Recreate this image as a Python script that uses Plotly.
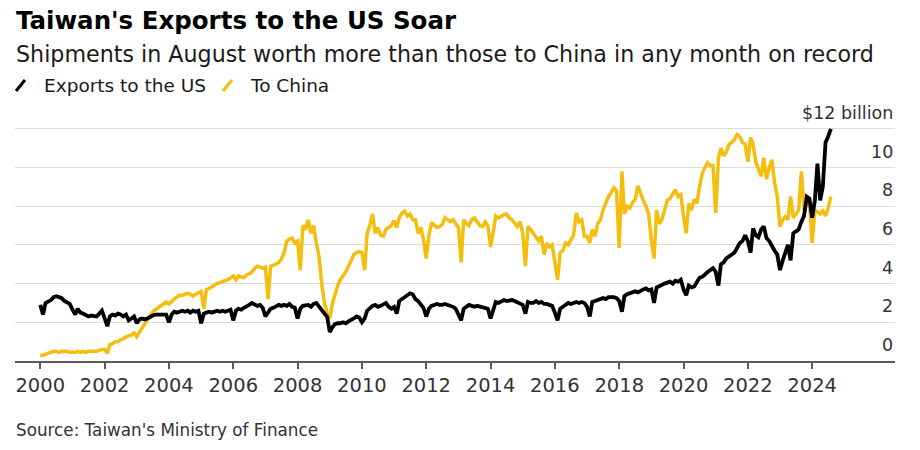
import pandas as pd
import plotly.graph_objects as go

# ---------------- data (monthly, $ billion) ----------------
start_month = "2000-01-01"

us_exports = [
    # 2000
    2.9, 2.4, 3.0, 3.05, 3.15, 3.3, 3.35, 3.3, 3.25, 3.1, 3.0, 2.95,
    # 2001
    2.65, 2.4, 2.7, 2.5, 2.45, 2.35, 2.3, 2.35, 2.3, 2.3, 2.45, 2.6,
    # 2002
    2.2, 1.8, 2.3, 2.4, 2.35, 2.45, 2.4, 2.3, 2.4, 2.1, 2.2, 2.3,
    # 2003
    1.95, 2.15, 2.2, 2.15, 2.2, 2.3, 2.35, 2.4, 2.4, 2.4, 2.4, 2.4,
    # 2004
    2.0, 2.4, 2.55, 2.5, 2.55, 2.6, 2.55, 2.6, 2.5, 2.6, 2.55, 2.6,
    # 2005
    1.95, 2.45, 2.5, 2.55, 2.5, 2.55, 2.6, 2.55, 2.6, 2.55, 2.6, 2.65,
    # 2006
    2.1, 2.6, 2.7, 2.65, 2.75, 2.8, 2.9, 3.0, 2.95, 2.85, 2.9, 2.75,
    # 2007
    2.3, 2.55, 2.7, 2.75, 2.8, 2.9, 2.85, 2.9, 2.85, 2.95, 2.8, 2.75,
    # 2008
    2.2, 2.7, 2.85, 2.9, 2.9, 2.8, 2.95, 3.0, 2.8, 2.6, 2.45, 2.3,
    # 2009
    1.5, 1.75, 1.9, 1.95, 1.95, 2.0, 1.95, 2.05, 2.1, 2.2, 2.3, 2.25,
    # 2010
    2.0, 2.2, 2.6, 2.75, 2.85, 2.9, 2.8, 2.85, 2.95, 3.0, 2.8, 2.7,
    # 2011
    2.8, 2.45, 3.1, 3.2, 3.35, 3.4, 3.5, 3.45, 3.2, 3.1, 2.9, 2.75,
    # 2012
    2.3, 2.7, 2.85, 2.9, 2.95, 2.9, 2.9, 2.95, 2.9, 2.85, 2.8, 2.7,
    # 2013
    2.4, 2.1, 2.7, 2.8, 2.9, 2.85, 2.8, 2.85, 2.8, 2.75, 2.7, 2.7,
    # 2014
    2.2, 2.6, 3.05, 3.0, 3.1, 3.15, 3.1, 3.15, 3.15, 3.1, 3.05, 3.0,
    # 2015
    2.9, 2.45, 3.05, 3.0, 3.0, 3.1, 3.0, 3.05, 2.95, 2.95, 2.9, 2.85,
    # 2016
    2.5, 2.1, 2.7, 2.8, 2.9, 3.0, 2.95, 3.0, 3.05, 3.0, 3.05, 3.0,
    # 2017
    2.8, 2.3, 3.05, 3.1, 3.15, 3.2, 3.25, 3.2, 3.3, 3.3, 3.3, 3.25,
    # 2018
    3.1, 2.55, 3.35, 3.45, 3.5, 3.55, 3.6, 3.55, 3.65, 3.7, 3.75, 3.65,
    # 2019
    3.7, 3.0, 3.8, 3.85, 3.9, 4.0, 4.05, 4.1, 4.0, 4.15, 4.1, 4.2,
    # 2020
    3.7, 3.4, 3.9, 3.8, 3.85, 4.1, 4.3, 4.35, 4.5, 4.6, 4.7, 4.8,
    # 2021
    4.6, 3.9, 5.0, 5.1, 5.3, 5.4, 5.5, 5.6, 5.85, 6.1, 6.2, 6.5,
    # 2022
    6.2, 5.6, 6.85, 6.5, 6.4, 6.8, 6.95, 6.35, 6.2, 5.9, 5.7, 5.5,
    # 2023
    4.7, 5.2, 5.55, 6.0, 5.2, 6.6, 6.7, 6.8, 7.2, 7.5, 8.5, 8.4,
    # 2024 (Jan-Aug)
    7.4, 8.3, 10.2, 8.3, 9.0, 11.3, 11.6, 12.0,
]

china_exports = [
    # 2000
    0.3, 0.3, 0.35, 0.4, 0.45, 0.5, 0.5, 0.45, 0.5, 0.5, 0.5, 0.45,
    # 2001
    0.45, 0.45, 0.5, 0.45, 0.5, 0.45, 0.5, 0.5, 0.5, 0.5, 0.55, 0.6,
    # 2002
    0.6, 0.4, 0.85, 0.9, 1.0, 1.0, 1.1, 1.15, 1.25, 1.3, 1.35, 1.45,
    # 2003
    1.25, 1.5, 1.7, 1.9, 2.1, 2.3, 2.55, 2.65, 2.75, 2.85, 2.95, 3.05,
    # 2004
    2.95, 3.1, 3.2, 3.3, 3.4, 3.4, 3.45, 3.5, 3.45, 3.35, 3.45, 3.55,
    # 2005
    3.6, 2.7, 3.7, 3.75, 3.85, 3.9, 4.0, 4.05, 4.1, 4.15, 4.2, 4.3,
    # 2006
    4.4, 4.2, 4.4, 4.35, 4.3, 4.45, 4.5, 4.6, 4.8, 4.9, 4.85, 4.8,
    # 2007
    4.85, 3.2, 4.9, 4.95, 5.0, 5.1, 5.25, 5.6, 6.2, 6.3, 6.35, 6.1,
    # 2008
    6.2, 4.7, 7.0, 6.8, 7.3, 6.6, 7.0, 6.1, 5.4, 4.0, 3.0, 2.5,
    # 2009
    2.2, 3.0, 3.5, 3.9, 4.2, 4.4, 4.6, 4.9, 5.2, 5.5, 5.6, 5.65,
    # 2010
    5.6, 4.7, 6.6, 7.0, 7.6, 6.6, 6.9, 6.5, 6.45, 6.8, 6.9, 7.0,
    # 2011
    7.25, 6.9, 7.4, 7.65, 7.75, 7.5, 7.6, 7.3, 7.3, 6.6, 6.9, 6.3,
    # 2012
    5.3, 6.5, 7.15, 7.0, 6.9, 6.95, 7.05, 7.4, 7.3, 7.2, 7.3, 7.1,
    # 2013
    6.9, 5.1, 7.3, 7.1, 7.0, 7.3, 7.4, 7.2, 7.0, 6.95, 7.2, 7.0,
    # 2014
    5.9, 6.7, 7.5, 7.4, 7.5, 7.55, 7.6, 7.4, 7.3, 7.1, 6.95, 7.2,
    # 2015
    6.6, 4.9, 6.95, 6.8, 6.6, 6.4, 6.2, 6.45, 5.5, 6.1, 5.9, 6.0,
    # 2016
    5.2, 4.2, 5.6, 5.7, 6.1, 6.0, 6.25, 6.5, 7.65, 7.2, 7.3, 6.45,
    # 2017
    6.45, 6.1, 6.8, 6.45, 7.1, 7.3, 7.8, 8.2, 8.5, 8.7, 8.95, 8.8,
    # 2018
    5.85, 9.8, 7.6, 8.0, 7.9, 8.2, 8.35, 9.05, 8.6, 8.3, 8.0, 7.6,
    # 2019
    6.2, 5.3, 7.8, 7.1, 7.3, 7.8, 8.3, 8.4, 8.6, 8.85, 8.5, 8.6,
    # 2020
    7.5, 6.6, 8.15, 7.8, 8.35, 8.15, 9.0, 9.7, 10.0, 10.25, 10.1, 10.1,
    # 2021
    7.65, 10.5, 11.0, 10.6, 10.8, 11.2, 11.3, 11.45, 11.7, 11.6, 11.3, 11.2,
    # 2022
    10.3, 11.55, 11.2, 10.3, 9.9, 9.55, 10.5, 9.4, 10.0, 10.4, 9.2, 8.5,
    # 2023
    6.95, 7.3, 7.45, 7.3, 8.5, 7.4, 7.6, 7.8, 9.8, 7.8, 8.1, 8.3,
    # 2024 (Jan-Aug)
    6.1, 7.8, 7.7, 7.6, 7.75, 7.5, 7.9, 8.5,
]

x_tick_years = [2000, 2002, 2004, 2006, 2008, 2010, 2012, 2014, 2016, 2018, 2020, 2022, 2024]

y_tick_values = [0, 2, 4, 6, 8, 10, 12]
y_tick_labels = ["0", "2", "4", "6", "8", "10", "$12 billion"]

series_names = ["Exports to the US", "To China"]

title_text = "Taiwan's Exports to the US Soar"
subtitle_text = "Shipments in August worth more than those to China in any month on record"
source_text = "Source: Taiwan's Ministry of Finance"

# ---------------- figure ----------------
months = pd.date_range(start_month, periods=len(us_exports), freq="MS")
x_tick_dates = [f"{y}-01-01" for y in x_tick_years]
x_tick_text = [str(y) for y in x_tick_years]

BLACK = "#000000"
YELLOW = "#F4BE0E"
FONT = "DejaVu Sans"

W, H = 920, 450
ML, MR, MT, MB = 15, 25, 124, 89
PW, PH = W - ML - MR, H - MT - MB


def px_x(p):
    return (p - ML) / PW


def px_y(p):
    return (H - MB - p) / PH


fig = go.Figure()
fig.add_trace(go.Scatter(x=months, y=china_exports, mode="lines", name=series_names[1],
                         line=dict(color=YELLOW, width=3.5), hoverinfo="skip"))
fig.add_trace(go.Scatter(x=months, y=us_exports, mode="lines", name=series_names[0],
                         line=dict(color=BLACK, width=3.8), hoverinfo="skip"))

fig.update_layout(
    width=W, height=H,
    margin=dict(l=ML, r=MR, t=MT, b=MB),
    paper_bgcolor="white", plot_bgcolor="white",
    showlegend=False,
    font=dict(family=FONT, color="#222"),
    xaxis=dict(
        type="date",
        range=["1999-03-20", "2026-07-30"],
        tickmode="array", tickvals=x_tick_dates, ticktext=x_tick_text,
        showgrid=False, zeroline=False,
        showline=True, linecolor="#5a5a5a", linewidth=1.5,
        ticks="outside", ticklen=6, tickwidth=1.5, tickcolor="#5a5a5a",
        tickfont=dict(family=FONT, size=19.5, color="#333"),
    ),
    yaxis=dict(
        range=[0, 12.25],
        tickmode="array", tickvals=y_tick_values,
        showticklabels=False,
        ticks="", showline=False, zeroline=False,
        showgrid=True, gridcolor="#dcdcdc", gridwidth=1,
    ),
)

# y-axis labels sitting above their gridlines at the right edge
for v, lab in zip(y_tick_values, y_tick_labels):
    fig.add_annotation(x=1.0, y=v, xref="paper", yref="y", xanchor="right", yanchor="bottom",
                       text=lab, showarrow=False, yshift=4,
                       font=dict(family=FONT, size=17.5, color="#333"))

# title / subtitle / source
fig.add_annotation(x=px_x(14), y=px_y(20), xref="paper", yref="paper", xanchor="left", yanchor="middle",
                   text="<b>" + title_text + "</b>", showarrow=False,
                   font=dict(family=FONT, size=24.5, color="#000"))
fig.add_annotation(x=px_x(14), y=px_y(54), xref="paper", yref="paper", xanchor="left", yanchor="middle",
                   text=subtitle_text, showarrow=False,
                   font=dict(family=FONT, size=22.2, color="#1a1a1a"))
fig.add_annotation(x=px_x(14), y=px_y(430), xref="paper", yref="paper", xanchor="left", yanchor="middle",
                   text=source_text, showarrow=False,
                   font=dict(family=FONT, size=16.8, color="#333"))

# legend (slanted line icons + labels)
legend_items = [
    (series_names[0], BLACK, 16, 42),
    (series_names[1], YELLOW, 223, 248),
]
for name, col, icon_x, text_x in legend_items:
    fig.add_shape(type="line", xref="paper", yref="paper",
                  x0=px_x(icon_x), y0=px_y(91), x1=px_x(icon_x + 9), y1=px_y(80),
                  line=dict(color=col, width=3))
    fig.add_annotation(x=px_x(text_x), y=px_y(85.5), xref="paper", yref="paper",
                       xanchor="left", yanchor="middle", text=name, showarrow=False,
                       font=dict(family=FONT, size=18.5, color="#1a1a1a"))

fig.write_html("out.html")
